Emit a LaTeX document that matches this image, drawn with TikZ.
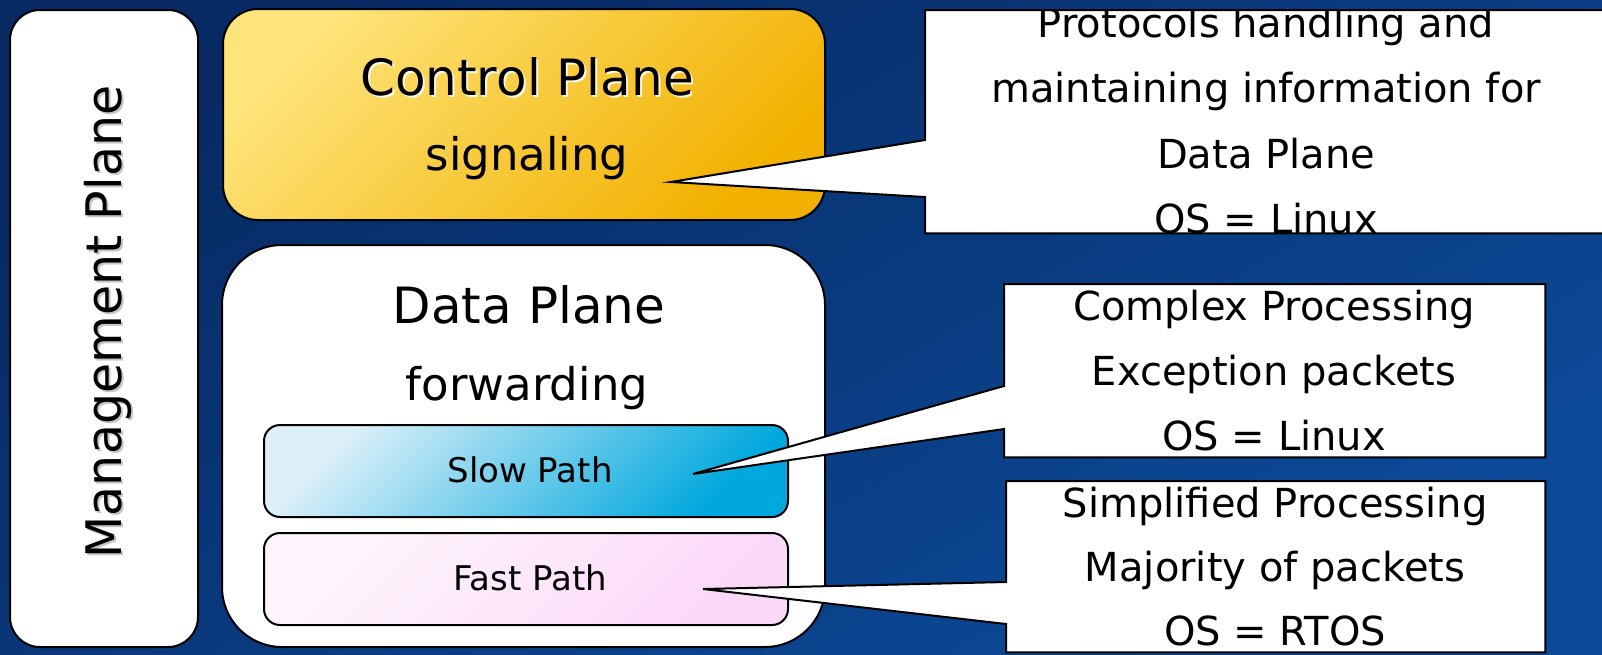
\documentclass[tikz,border=0pt]{standalone}
\usepackage{fontspec}
\setmainfont{DejaVu Sans}
\definecolor{bgdark}{HTML}{072A63}
\definecolor{bglight}{HTML}{0C4A99}
\definecolor{ctlA}{HTML}{FEE47A}
\definecolor{ctlB}{HTML}{F2B100}
\definecolor{slowA}{HTML}{DDF0F9}
\definecolor{slowB}{HTML}{00A8DD}
\definecolor{fastA}{HTML}{FEF6FC}
\definecolor{fastB}{HTML}{FCD8F8}
\tikzset{
  plane/.style={draw=black, line width=2pt, inner sep=0pt, anchor=north west},
  callout/.style={draw=black, fill=white, line width=2pt, line join=miter},
  cbox/.style={inner sep=0pt, anchor=north west},
  titletext/.style={font=\fontsize{50}{60}\selectfont, anchor=base, inner sep=0pt},
  subtext/.style={font=\fontsize{45}{54}\selectfont, anchor=base, inner sep=0pt},
  pathlabel/.style={font=\fontsize{34}{40}\selectfont, anchor=base, inner sep=0pt},
  ctext/.style={font=\fontsize{40}{48}\selectfont, anchor=base, inner sep=0pt},
}
\begin{document}
\begin{tikzpicture}[x=1pt,y=-1pt]
\useasboundingbox (0,0) rectangle (1602,654);
\clip (0,0) rectangle (1602,654);
% background
\fill[top color=bgdark, bottom color=bglight, shading angle=30] (0,0) rectangle (1602,654);

% management plane
\node[plane, fill=white, rounded corners=30pt, minimum width=188pt, minimum height=637pt] (mgmt) at (9,9) {};
\node[font=\fontsize{49}{58}\selectfont, anchor=base, inner sep=0pt, rotate=90, text=black!45, opacity=0.5] (mgmtshadow) at (123,324) {Management Plane};
\node[font=\fontsize{49}{58}\selectfont, anchor=base, inner sep=0pt, rotate=90] (mgmttext) at (121,322) {Management Plane};

% control plane
\node[plane, rounded corners=35pt, minimum width=602pt, minimum height=211pt, top color=ctlA, bottom color=ctlB, shading angle=45] (ctl) at (222,8) {};
\node[titletext, text=white, opacity=0.85] (ctlshadow) at (529,97) {Control Plane};
\node[titletext] (ctltitle) at (527,95) {Control Plane};
\node[subtext] (ctlsub) at (527,170) {signaling};

% data plane
\node[plane, fill=white, rounded corners=60pt, minimum width=603pt, minimum height=402pt] (data) at (221,244) {};
\node[titletext] (datatitle) at (529,323) {Data Plane};
\node[subtext] (datasub) at (527,400) {forwarding};

% slow / fast path
\node[plane, rounded corners=16pt, minimum width=524pt, minimum height=92pt, top color=slowA, bottom color=slowB, shading angle=45] (slow) at (263,424) {};
\node[pathlabel] (slowtext) at (530,482) {Slow Path};
\node[plane, rounded corners=16pt, minimum width=524pt, minimum height=92pt, top color=fastA, bottom color=fastB, shading angle=45] (fast) at (263,532) {};
\node[pathlabel] (fasttext) at (530,590) {Fast Path};

% callout 1
\node[cbox, minimum width=685pt, minimum height=223pt] (cb1) at (925,10) {};
\coordinate (tip1) at (671,182);
\coordinate (b1a) at (925,197);
\coordinate (b1b) at (925,140);
\path[callout] (cb1.north west) -- (cb1.north east) -- (cb1.south east) -- (cb1.south west) -- (b1a) -- (tip1) -- (b1b) -- cycle;
\begin{scope}
\clip ([shift={(1,1)}]cb1.north west) rectangle ([shift={(-1,-1)}]cb1.south east);
\node[ctext] (c1l1) at (1266,37) {Protocols handling and};
\node[ctext] (c1l2) at (1266,102.5) {maintaining information for};
\node[ctext] (c1l3) at (1266,168) {Data Plane};
\node[ctext] (c1l4) at (1266,233.5) {OS = Linux};
\end{scope}

% callout 2
\node[cbox, minimum width=541pt, minimum height=173pt] (cb2) at (1004,284) {};
\coordinate (tip2) at (693,474);
\coordinate (b2a) at (1004,429);
\coordinate (b2b) at (1004,386);
\path[callout] (cb2.north west) -- (cb2.north east) -- (cb2.south east) -- (cb2.south west) -- (b2a) -- (tip2) -- (b2b) -- cycle;
\node[ctext] (c2l1) at (1274,320) {Complex Processing};
\node[ctext] (c2l2) at (1274,385) {Exception packets};
\node[ctext] (c2l3) at (1274,450) {OS = Linux};

% callout 3
\node[cbox, minimum width=539pt, minimum height=171pt] (cb3) at (1006,481) {};
\coordinate (tip3) at (703,589);
\coordinate (b3a) at (1006,624);
\coordinate (b3b) at (1006,582);
\path[callout] (cb3.north west) -- (cb3.north east) -- (cb3.south east) -- (cb3.south west) -- (b3a) -- (tip3) -- (b3b) -- cycle;
\node[ctext] (c3l1) at (1275,517) {Simplified Processing};
\node[ctext] (c3l2) at (1275,581) {Majority of packets};
\node[ctext] (c3l3) at (1275,645) {OS = RTOS};
\end{tikzpicture}
\end{document}
